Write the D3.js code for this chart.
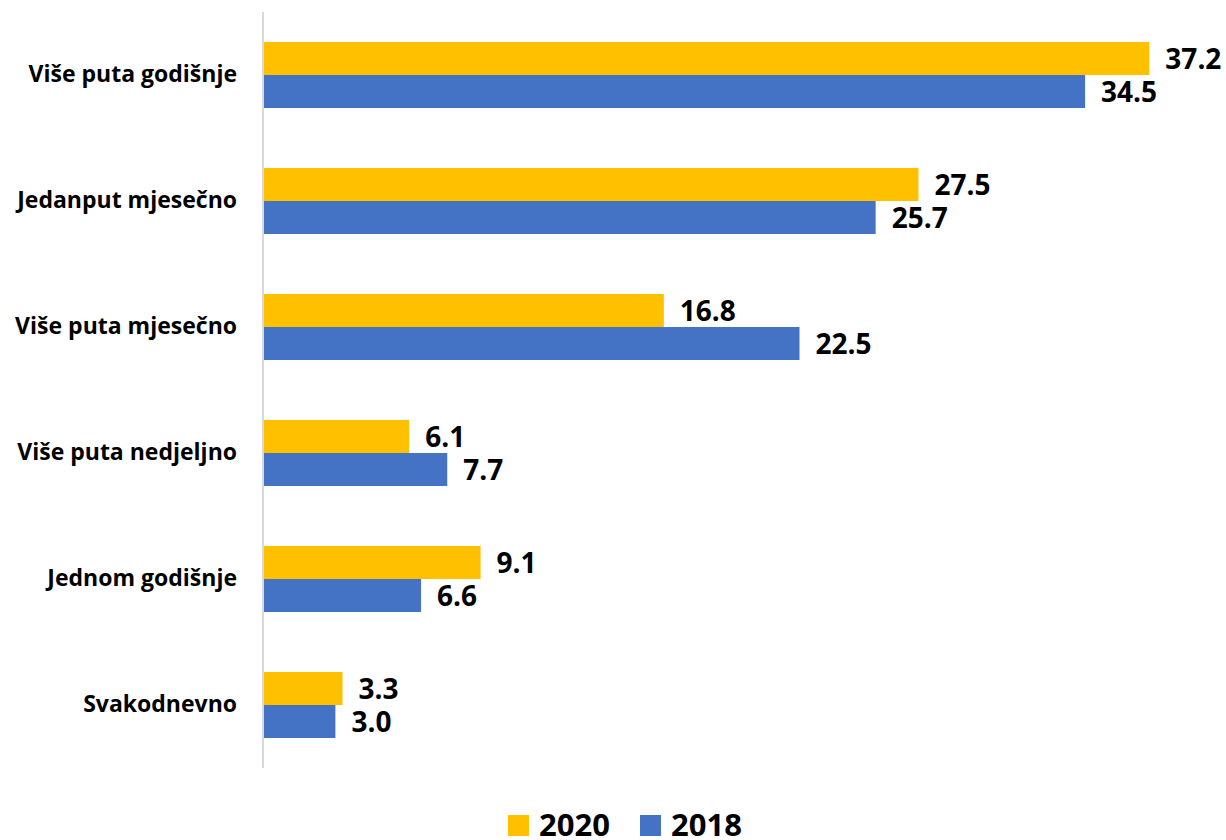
<!DOCTYPE html>
<html>
<head>
<meta charset="utf-8">
<script src="https://cdn.jsdelivr.net/npm/d3@7"></script>
<style>
  html, body { margin: 0; padding: 0; background: #fff; }
  svg { display: block; font-family: "Open Sans", "Noto Sans", sans-serif; }
</style>
</head>
<body>
<svg id="chart" width="1226" height="840"></svg>
<script>
// Frequency categories, top to bottom
const categories = [
  "Više puta godišnje",
  "Jedanput mjesečno",
  "Više puta mjesečno",
  "Više puta nedjeljno",
  "Jednom godišnje",
  "Svakodnevno"
];
const seriesNames = ["2020", "2018"];
const values2020 = [37.2, 27.5, 16.8, 6.1, 9.1, 3.3];
const values2018 = [34.5, 25.7, 22.5, 7.7, 6.6, 3.0];
const seriesColors = ["#FFC000", "#4472C4"];

const rows = categories.map((c, i) => ({
  category: c,
  values: [
    { series: seriesNames[0], value: values2020[i] },
    { series: seriesNames[1], value: values2018[i] }
  ]
}));

const svg = d3.select("#chart");

const x = d3.scaleLinear().domain([0, 40]).range([264, 1216]);
const y = d3.scaleBand()
  .domain(categories)
  .range([12, 768])
  .paddingInner(0.476)
  .paddingOuter(0.238);
const ySub = d3.scaleBand().domain(seriesNames).range([0, y.bandwidth()]);
const color = d3.scaleOrdinal().domain(seriesNames).range(seriesColors);

// Bar groups
const groups = svg.append("g").selectAll("g")
  .data(rows)
  .join("g")
  .attr("transform", d => `translate(0,${y(d.category)})`);

groups.selectAll("rect")
  .data(d => d.values)
  .join("rect")
  .attr("x", x(0))
  .attr("y", d => ySub(d.series))
  .attr("width", d => x(d.value) - x(0))
  .attr("height", ySub.bandwidth())
  .attr("fill", d => color(d.series));

// Value labels at bar ends
groups.selectAll("text")
  .data(d => d.values)
  .join("text")
  .attr("x", d => x(d.value) + 16)
  .attr("y", d => ySub(d.series) + ySub.bandwidth() / 2)
  .attr("dy", "0.36em")
  .attr("font-size", 28)
  .attr("font-weight", 700)
  .attr("fill", "#000")
  .text(d => d.value.toFixed(1));

// Category axis
const yAxis = d3.axisLeft(y).tickSize(0).tickPadding(26);
const axisG = svg.append("g")
  .attr("transform", `translate(${x(0) - 1},0)`)
  .call(yAxis);
axisG.select(".domain")
  .attr("d", `M0,12V768`)
  .attr("stroke", "#D9D9D9")
  .attr("stroke-width", 2);
axisG.selectAll(".tick text")
  .attr("font-size", 23)
  .attr("font-weight", 700)
  .attr("font-family", "\"Open Sans\", sans-serif")
  .attr("fill", "#000");

// Legend
const legendItems = [
  { name: seriesNames[0], x: 508 },
  { name: seriesNames[1], x: 640 }
];
const legend = svg.append("g");
legend.selectAll("rect")
  .data(legendItems)
  .join("rect")
  .attr("x", d => d.x)
  .attr("y", 815)
  .attr("width", 21)
  .attr("height", 21)
  .attr("fill", d => color(d.name));
legend.selectAll("text")
  .data(legendItems)
  .join("text")
  .attr("x", d => d.x + 31)
  .attr("y", 836)
  .attr("font-size", 31)
  .attr("font-weight", 700)
  .attr("fill", "#000")
  .text(d => d.name);
</script>
</body>
</html>
